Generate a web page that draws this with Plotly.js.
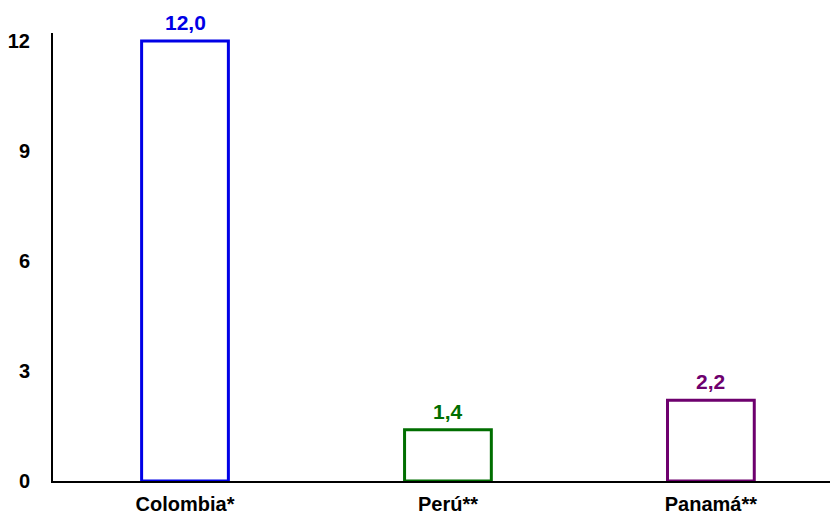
<!DOCTYPE html>
<html>
<head>
<meta charset="utf-8">
<script src="https://cdn.plot.ly/plotly-3.0.1.min.js"></script>
<style>html,body{margin:0;padding:0;background:#fff;}#chart{width:830px;height:517px;}</style>
</head>
<body>
<div id="chart"></div>
<script>
const categories = ["Colombia*", "Perú**", "Panamá**"];
const values = [12.0, 1.4, 2.2];
const barColors = ["#0000E6", "#006E00", "#6E006E"];
const yTicks = [0, 3, 6, 9, 12];

const FONT = "'Liberation Sans', Arial, sans-serif";

const trace = {
  type: "bar",
  x: categories,
  y: values,
  width: 0.33,
  marker: { color: "rgba(255,255,255,0)", line: { color: barColors, width: 3 } },
  hoverinfo: "none"
};

const annotations = categories.map((c, i) => ({
  x: c, y: values[i], xref: "x", yref: "y",
  text: "<b>" + values[i].toFixed(1).replace(".", ",") + "</b>",
  showarrow: false, yanchor: "bottom", yshift: 5,
  font: { family: FONT, size: 21, color: barColors[i] }
}));

const layout = {
  width: 830, height: 517,
  margin: { l: 53, r: 0, t: 33, b: 36 },
  paper_bgcolor: "#fff", plot_bgcolor: "#fff",
  showlegend: false,
  font: { family: FONT, size: 20, color: "#000" },
  xaxis: {
    type: "category",
    range: [-0.502, 2.453],
    showline: true, linecolor: "#000", linewidth: 2,
    showgrid: false, zeroline: false,
    ticks: "outside", ticklen: 4, tickcolor: "rgba(0,0,0,0)",
    tickfont: { family: FONT, size: 20, color: "#000", weight: "bold" }
  },
  yaxis: {
    range: [0, 12.22],
    tickvals: yTicks,
    ticktext: yTicks.map(String),
    showline: true, linecolor: "#000", linewidth: 2,
    showgrid: false, zeroline: false,
    ticks: "outside", ticklen: 17, tickcolor: "rgba(0,0,0,0)",
    tickfont: { family: FONT, size: 20, color: "#000", weight: "bold" }
  },
  annotations: annotations
};

Plotly.newPlot("chart", [trace], layout, { displayModeBar: false, staticPlot: true });
</script>
</body>
</html>
